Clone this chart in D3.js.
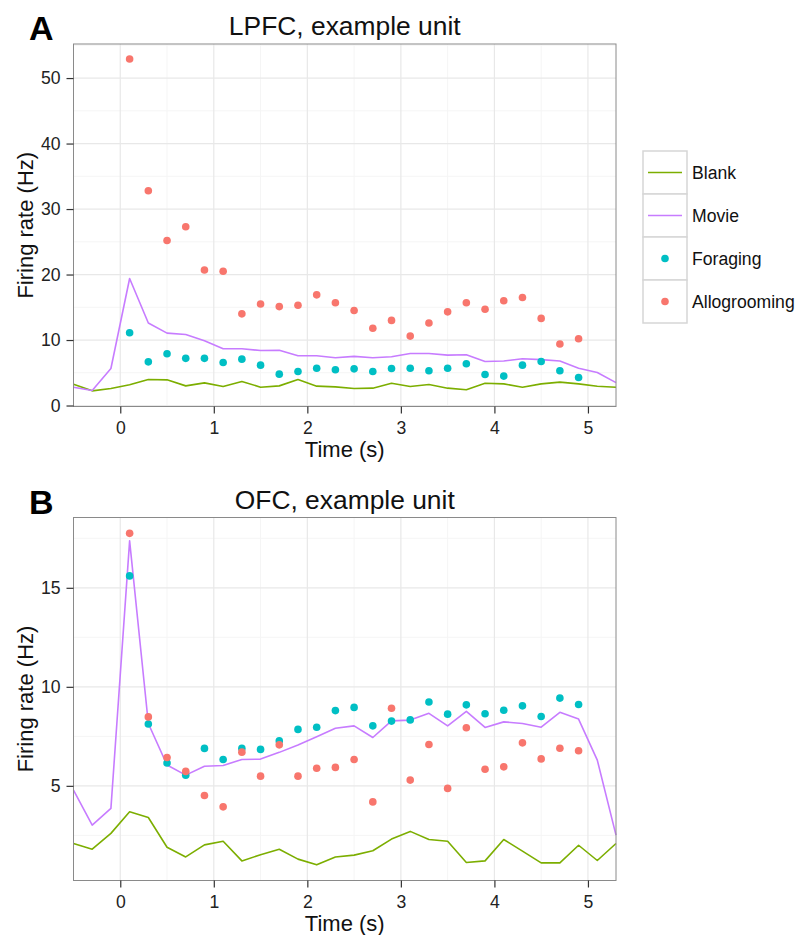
<!DOCTYPE html>
<html>
<head>
<meta charset="utf-8">
<script src="https://cdn.jsdelivr.net/npm/d3@7/dist/d3.min.js"></script>
<style>
  html, body { margin: 0; padding: 0; background: #fff; }
  svg { display: block; font-family: "Liberation Sans", Arial, Helvetica, sans-serif; }
</style>
</head>
<body>
<svg id="chart" width="804" height="935"></svg>
<script>
// Time bins (s): lines are sampled across the whole window, dots at stimulus bins
const lineTimes = [-0.5, -0.3, -0.1, 0.1, 0.3, 0.5, 0.7, 0.9, 1.1, 1.3, 1.5, 1.7, 1.9, 2.1, 2.3,
                   2.5, 2.7, 2.9, 3.1, 3.3, 3.5, 3.7, 3.9, 4.1, 4.3, 4.5, 4.7, 4.9, 5.1, 5.3];
const pointTimes = [0.1, 0.3, 0.5, 0.7, 0.9, 1.1, 1.3, 1.5, 1.7, 1.9, 2.1, 2.3, 2.5,
                    2.7, 2.9, 3.1, 3.3, 3.5, 3.7, 3.9, 4.1, 4.3, 4.5, 4.7, 4.9];

// LPFC example unit (Hz)
const lpfcBlank = [3.26, 2.24, 2.6, 3.16, 3.97, 3.92, 3.0, 3.46, 2.9, 3.67, 2.8, 3.0, 3.97, 2.96, 2.85,
                   2.6, 2.65, 3.4, 2.9, 3.2, 2.65, 2.4, 3.4, 3.3, 2.8, 3.3, 3.57, 3.3, 2.95, 2.8];
const lpfcMovie = [2.8, 2.3, 5.65, 19.4, 12.6, 11.05, 10.85, 9.9, 8.66, 8.66, 8.4, 8.45, 7.6, 7.6, 7.3,
                   7.5, 7.3, 7.45, 7.95, 7.95, 7.7, 7.75, 6.72, 6.8, 7.13, 7.0, 6.8, 5.7, 5.04, 3.5];
const lpfcForaging = [11.1, 6.67, 7.9, 7.2, 7.2, 6.57, 7.08, 6.16, 4.79, 5.2, 5.7, 5.45, 5.6,
                      5.2, 5.65, 5.7, 5.3, 5.7, 6.37, 4.74, 4.49, 6.16, 6.72, 5.3, 4.28];
const lpfcAllogrooming = [52.9, 32.8, 25.2, 27.3, 20.7, 20.5, 14.0, 15.5, 15.1, 15.3, 16.9, 15.7, 14.5,
                          11.8, 13.0, 10.6, 12.6, 14.3, 15.7, 14.7, 16.0, 16.5, 13.3, 9.4, 10.2];

// OFC example unit (Hz)
const ofcBlank = [2.09, 1.8, 2.6, 3.69, 3.4, 1.9, 1.41, 2.02, 2.2, 1.21, 1.52, 1.8, 1.3, 1.01, 1.41,
                  1.5, 1.72, 2.31, 2.7, 2.29, 2.2, 1.13, 1.21, 2.29, 1.7, 1.11, 1.11, 2.0, 1.23, 2.09];
const ofcMovie = [4.78, 3.02, 3.86, 17.37, 8.15, 6.05, 5.54, 5.99, 6.03, 6.33, 6.35, 6.69, 7.06, 7.48, 7.91,
                  8.03, 7.44, 8.28, 8.32, 8.66, 8.03, 8.76, 7.95, 8.23, 8.15, 7.96, 8.71, 8.37, 6.3, 2.51];
const ofcForaging = [15.6, 8.12, 6.15, 5.54, 6.89, 6.33, 6.89, 6.84, 7.27, 7.85, 7.96, 8.8, 8.96,
                     8.03, 8.27, 8.33, 9.23, 8.62, 9.09, 8.64, 8.82, 9.04, 8.5, 9.43, 9.11];
const ofcAllogrooming = [17.75, 8.48, 6.43, 5.73, 4.51, 3.94, 6.7, 5.49, 7.07, 5.49, 5.89, 5.93, 6.33,
                         4.19, 8.92, 5.29, 7.09, 4.87, 7.93, 5.84, 5.96, 7.17, 6.36, 6.9, 6.77];

// Axis ticks
const xTicks = [0, 1, 2, 3, 4, 5];
const lpfcYTicks = [0, 10, 20, 30, 40, 50];
const ofcYTicks = [5, 10, 15];

// Legend entries
const legendLabels = ["Blank", "Movie", "Foraging", "Allogrooming"];
const legendKinds = ["line", "line", "point", "point"];

const color = d3.scaleOrdinal()
  .domain(["Allogrooming", "Blank", "Foraging", "Movie"])
  .range(["#F8766D", "#7CAE00", "#00BFC4", "#C77CFF"]);

const svg = d3.select("#chart");
const plotLeft = 73.5, plotRight = 616;
const tickFont = 17.6, titleFont = 22, headFont = 26.4;

function panel(opts) {
  const g = svg.append("g");
  const x = d3.scaleLinear().domain([-0.5, 5.3]).range([plotLeft, plotRight]);
  const y = d3.scaleLinear().domain(opts.yDomain).range([opts.bottom, opts.top]);

  // panel background
  g.append("rect")
    .attr("x", plotLeft).attr("y", opts.top)
    .attr("width", plotRight - plotLeft).attr("height", opts.bottom - opts.top)
    .attr("fill", "#fff");

  // minor grid (midpoints between major breaks)
  const xMinor = [];
  for (let i = 0; i < xTicks.length - 1; i++) xMinor.push((xTicks[i] + xTicks[i + 1]) / 2);
  const yMinor = [];
  const ys = opts.yTicks, step = ys[1] - ys[0];
  for (let v = ys[0] - step / 2; v <= opts.yDomain[1]; v += step) {
    if (v >= opts.yDomain[0]) yMinor.push(v);
  }
  g.selectAll(".xminor").data(xMinor).enter().append("line")
    .attr("x1", d => x(d)).attr("x2", d => x(d))
    .attr("y1", opts.top).attr("y2", opts.bottom)
    .attr("stroke", "#f5f5f5").attr("stroke-width", 1);
  g.selectAll(".yminor").data(yMinor).enter().append("line")
    .attr("x1", plotLeft).attr("x2", plotRight)
    .attr("y1", d => y(d)).attr("y2", d => y(d))
    .attr("stroke", "#f5f5f5").attr("stroke-width", 1);

  // major grid
  g.selectAll(".xmajor").data(xTicks).enter().append("line")
    .attr("x1", d => x(d)).attr("x2", d => x(d))
    .attr("y1", opts.top).attr("y2", opts.bottom)
    .attr("stroke", "#e8e8e8").attr("stroke-width", 1.2);
  g.selectAll(".ymajor").data(opts.yTicks).enter().append("line")
    .attr("x1", plotLeft).attr("x2", plotRight)
    .attr("y1", d => y(d)).attr("y2", d => y(d))
    .attr("stroke", "#e8e8e8").attr("stroke-width", 1.2);

  // series lines
  const line = d3.line().x((d, i) => x(lineTimes[i])).y(d => y(d));
  [["Blank", opts.blank], ["Movie", opts.movie]].forEach(([name, vals]) => {
    g.append("path")
      .datum(vals)
      .attr("d", line)
      .attr("fill", "none")
      .attr("stroke", color(name))
      .attr("stroke-width", 1.6)
      .attr("stroke-linejoin", "round");
  });

  // series points
  [["Foraging", opts.foraging], ["Allogrooming", opts.allo]].forEach(([name, vals]) => {
    g.selectAll(null).data(vals).enter().append("circle")
      .attr("cx", (d, i) => x(pointTimes[i]))
      .attr("cy", d => y(d))
      .attr("r", 3.8)
      .attr("fill", color(name));
  });

  // panel border
  g.append("rect")
    .attr("x", plotLeft).attr("y", opts.top)
    .attr("width", plotRight - plotLeft).attr("height", opts.bottom - opts.top)
    .attr("fill", "none").attr("stroke", "#8a8a8a").attr("stroke-width", 1);

  // axes
  const xAxis = d3.axisBottom(x).tickValues(xTicks).tickSize(7).tickPadding(8).tickFormat(d3.format("d"));
  const yAxis = d3.axisLeft(y).tickValues(opts.yTicks).tickSize(7).tickPadding(6).tickFormat(d3.format("d"));
  const gx = g.append("g").attr("transform", `translate(0,${opts.bottom})`).call(xAxis);
  const gy = g.append("g").attr("transform", `translate(${plotLeft},0)`).call(yAxis);
  [gx, gy].forEach(a => {
    a.select(".domain").remove();
    a.selectAll(".tick line").attr("stroke", "#333").attr("stroke-width", 1.2);
    a.selectAll(".tick text").attr("fill", "#222").attr("font-size", tickFont)
      .attr("font-family", "Liberation Sans, Arial, sans-serif");
  });

  // axis titles
  g.append("text")
    .attr("x", (plotLeft + plotRight) / 2).attr("y", opts.bottom + 50)
    .attr("text-anchor", "middle").attr("font-size", titleFont).attr("fill", "#111")
    .text("Time (s)");
  g.append("text")
    .attr("transform", `translate(33,${(opts.top + opts.bottom) / 2}) rotate(-90)`)
    .attr("text-anchor", "middle").attr("font-size", titleFont).attr("fill", "#111")
    .text("Firing rate (Hz)");

  // panel title and letter
  g.append("text")
    .attr("x", (plotLeft + plotRight) / 2).attr("y", opts.top - 9)
    .attr("text-anchor", "middle").attr("font-size", headFont).attr("fill", "#111")
    .text(opts.title);
  g.append("text")
    .attr("x", 29).attr("y", opts.top - 4)
    .attr("font-size", 34).attr("font-weight", "bold").attr("fill", "#000")
    .text(opts.letter);
}

panel({
  top: 44, bottom: 406.5, yDomain: [-0.15, 55.2], yTicks: lpfcYTicks,
  blank: lpfcBlank, movie: lpfcMovie, foraging: lpfcForaging, allo: lpfcAllogrooming,
  title: "LPFC, example unit", letter: "A"
});
panel({
  top: 517.5, bottom: 880.5, yDomain: [0.22, 18.55], yTicks: ofcYTicks,
  blank: ofcBlank, movie: ofcMovie, foraging: ofcForaging, allo: ofcAllogrooming,
  title: "OFC, example unit", letter: "B"
});

// legend
const legend = svg.append("g").attr("transform", "translate(643,151)");
const keyW = 44, keyH = 43;
legendLabels.forEach((lab, i) => {
  const k = legend.append("g").attr("transform", `translate(0,${i * keyH})`);
  k.append("rect").attr("width", keyW).attr("height", keyH)
    .attr("fill", "#fff").attr("stroke", "#d6d6d6").attr("stroke-width", 1.5);
  if (legendKinds[i] === "line") {
    k.append("line").attr("x1", 5).attr("x2", keyW - 5)
      .attr("y1", keyH / 2).attr("y2", keyH / 2)
      .attr("stroke", color(lab)).attr("stroke-width", 1.6);
  } else {
    k.append("circle").attr("cx", keyW / 2).attr("cy", keyH / 2).attr("r", 3.8)
      .attr("fill", color(lab));
  }
  k.append("text").attr("x", keyW + 5).attr("y", keyH / 2).attr("dy", "0.36em")
    .attr("font-size", tickFont).attr("fill", "#111").text(lab);
});
</script>
</body>
</html>
